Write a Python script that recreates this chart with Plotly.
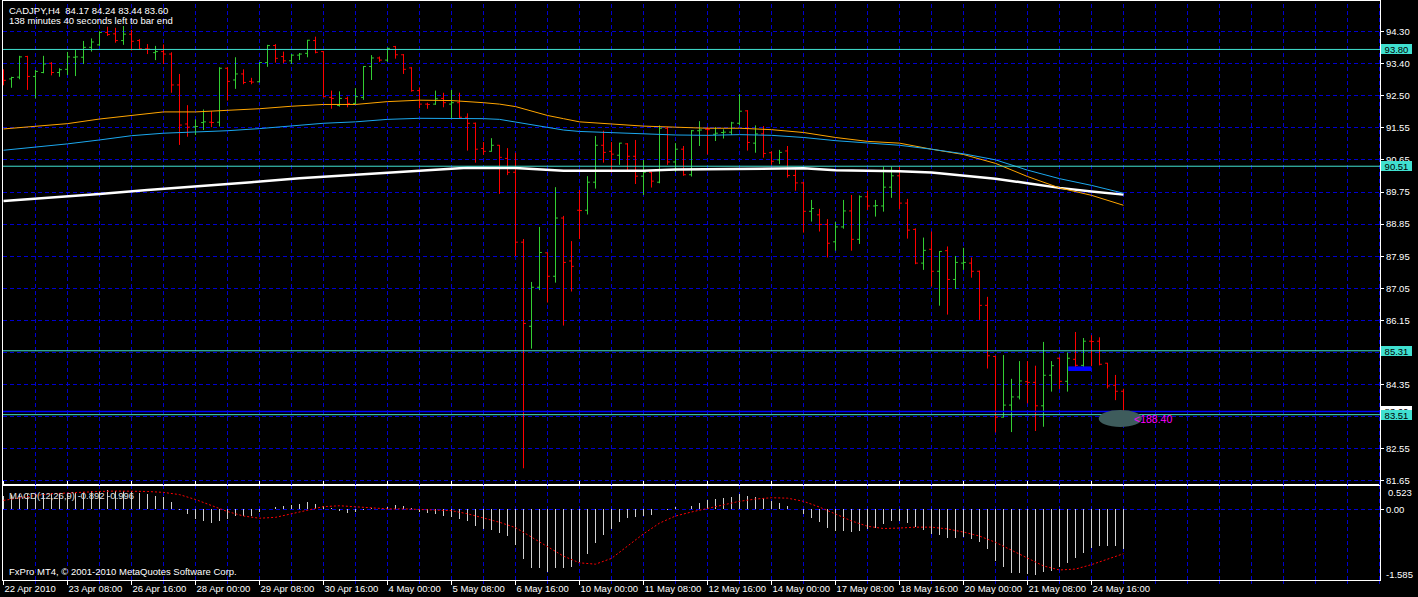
import plotly.graph_objects as go

# ---------------- data ----------------
bar_idx = list(range(141))
opens = [93.13, 92.97, 93.02, 93.60, 93.04, 93.15, 93.41, 93.15, 93.24, 93.58,
         93.58, 93.86, 93.93, 94.28, 94.24, 94.05, 94.23, 94.05, 93.82, 93.71,
         93.74, 93.67, 92.80, 91.70, 91.62, 91.74, 91.75, 91.75, 93.27, 92.94,
         93.11, 92.90, 92.89, 93.43, 93.91, 93.60, 93.48, 93.64, 93.69, 94.05,
         93.74, 92.45, 92.22, 92.42, 92.28, 92.45, 93.32, 93.56, 93.50, 93.88,
         93.65, 93.28, 92.64, 92.26, 92.26, 92.42, 92.26, 92.30, 91.89, 91.72,
         91.01, 90.93, 91.10, 90.73, 90.34, 88.37, 86.00, 87.10, 88.07, 87.41,
         89.05, 87.84, 89.27, 89.27, 90.06, 91.10, 90.93, 90.82, 91.14, 90.79,
         90.23, 90.34, 90.06, 91.58, 90.63, 90.99, 90.27, 91.51, 91.55, 91.41,
         91.46, 91.47, 91.72, 92.07, 91.16, 91.42, 90.89, 90.69, 90.94, 90.25,
         90.04, 89.24, 89.14, 88.87, 88.38, 88.80, 89.25, 88.45, 89.65, 89.39,
         89.39, 89.92, 90.24, 89.47, 88.73, 87.78, 88.17, 87.55, 88.13, 87.32,
         87.78, 87.78, 87.55, 86.59, 85.15, 83.44, 83.78, 84.01, 84.44, 84.42,
         83.76, 84.62, 85.10, 84.45, 85.07, 84.90, 85.58, 85.58, 84.96, 84.34,
         84.17]
highs = [93.24, 93.03, 93.62, 93.62, 93.22, 93.62, 93.44, 93.27, 93.73, 93.80,
         94.04, 94.11, 94.31, 94.44, 94.41, 94.46, 94.35, 94.09, 93.95, 93.90,
         93.94, 93.72, 93.11, 92.23, 91.83, 92.11, 92.06, 93.30, 93.30, 93.58,
         93.24, 93.00, 93.44, 93.93, 93.95, 93.74, 93.67, 93.70, 94.07, 94.16,
         93.75, 92.64, 92.62, 92.47, 92.71, 93.33, 93.64, 93.60, 93.86, 93.90,
         93.67, 93.30, 92.73, 92.30, 92.64, 92.58, 92.66, 92.58, 92.00, 91.74,
         91.19, 91.30, 91.11, 91.02, 90.89, 88.46, 87.25, 88.80, 88.08, 89.92,
         89.11, 88.40, 89.84, 90.23, 91.36, 91.51, 91.19, 91.17, 91.16, 91.25,
         90.69, 90.35, 91.66, 91.62, 91.16, 91.08, 91.53, 91.78, 91.62, 91.61,
         91.55, 91.76, 92.54, 92.09, 91.66, 91.64, 90.93, 90.97, 91.08, 90.42,
         90.07, 89.56, 89.31, 89.02, 88.94, 89.56, 89.70, 89.69, 89.82, 89.56,
         90.50, 90.50, 90.50, 89.59, 88.76, 88.50, 88.67, 88.12, 88.25, 87.98,
         88.21, 87.94, 87.57, 86.83, 85.17, 85.19, 84.52, 85.02, 85.02, 84.89,
         85.56, 85.02, 85.12, 85.26, 85.84, 85.67, 85.75, 85.69, 84.97, 84.63,
         84.24]
lows = [92.79, 92.72, 92.96, 92.66, 92.42, 93.13, 93.07, 93.03, 93.08, 93.05,
        93.39, 93.74, 93.90, 94.18, 93.99, 93.93, 93.77, 93.79, 93.67, 93.50,
        93.39, 92.58, 91.11, 91.34, 91.39, 91.53, 91.61, 91.63, 92.36, 92.69,
        92.82, 92.82, 92.87, 93.31, 93.43, 93.41, 93.39, 93.50, 93.58, 93.69,
        92.45, 92.13, 92.19, 92.17, 92.26, 92.38, 92.94, 93.45, 93.45, 93.54,
        93.11, 92.61, 92.14, 92.13, 92.24, 92.17, 91.86, 91.86, 90.95, 90.61,
        90.83, 90.92, 89.73, 90.26, 87.98, 82.00, 85.37, 87.02, 86.67, 87.23,
        86.02, 86.98, 88.46, 89.15, 89.88, 90.61, 90.33, 90.55, 90.40, 90.01,
        89.70, 89.91, 90.03, 90.55, 90.35, 90.24, 90.22, 91.08, 90.84, 91.22,
        91.29, 91.39, 91.67, 90.95, 90.89, 90.75, 90.55, 90.57, 90.19, 89.82,
        88.64, 88.95, 88.67, 87.94, 88.13, 88.75, 88.13, 88.32, 89.28, 89.09,
        89.23, 89.62, 89.30, 88.47, 87.75, 87.59, 87.12, 86.58, 86.33, 87.05,
        87.59, 87.37, 86.18, 84.81, 83.01, 83.43, 83.02, 83.94, 83.83, 83.05,
        83.17, 84.16, 84.23, 84.16, 84.84, 84.80, 84.88, 84.90, 84.25, 83.92,
        83.44]
closes = [92.93, 93.01, 93.59, 93.04, 93.18, 93.39, 93.15, 93.23, 93.59, 93.59,
          93.86, 94.01, 94.28, 94.22, 94.05, 94.23, 94.03, 93.82, 93.81, 93.74,
          93.67, 92.80, 91.67, 91.61, 91.63, 91.76, 91.74, 93.27, 92.90, 93.11,
          92.87, 92.88, 93.43, 93.91, 93.55, 93.48, 93.64, 93.67, 94.06, 93.72,
          92.47, 92.42, 92.42, 92.28, 92.47, 93.32, 93.56, 93.50, 93.83, 93.65,
          93.24, 92.64, 92.26, 92.25, 92.41, 92.30, 92.30, 91.89, 91.72, 90.99,
          90.93, 91.10, 90.76, 90.34, 88.37, 86.08, 87.10, 88.08, 87.41, 89.05,
          87.80, 87.69, 89.26, 90.06, 91.10, 90.90, 90.85, 91.16, 90.79, 90.23,
          90.34, 90.09, 91.58, 90.63, 90.99, 90.27, 91.51, 91.53, 91.54, 91.44,
          91.47, 91.73, 92.06, 91.18, 91.42, 90.87, 90.65, 90.90, 90.25, 90.04,
          89.24, 89.32, 88.87, 88.34, 88.80, 89.25, 88.45, 89.65, 89.39, 89.40,
          89.92, 90.24, 89.47, 88.71, 87.78, 88.14, 87.55, 88.11, 87.32, 87.80,
          87.80, 87.55, 86.59, 85.17, 83.44, 83.78, 84.01, 84.46, 84.42, 83.76,
          84.62, 84.89, 84.45, 85.10, 84.90, 85.58, 85.57, 84.93, 84.32, 84.17,
          83.60]

# moving averages (bar index, value)
ma_orange_x = [0, 4, 8, 12, 16, 20, 24, 28, 32, 36, 40, 44, 48, 52, 56, 60, 62, 64, 66, 68,
               70, 72, 76, 80, 84, 88, 92, 96, 100, 104, 108, 112, 116, 120, 124, 128, 132, 136, 140]
ma_orange = [91.56, 91.64, 91.71, 91.84, 91.95, 92.04, 92.04, 92.08, 92.13, 92.20, 92.25, 92.25,
             92.33, 92.37, 92.36, 92.30, 92.26, 92.19, 92.07, 91.94, 91.85, 91.76, 91.70, 91.64,
             91.61, 91.58, 91.58, 91.54, 91.46, 91.32, 91.21, 91.16, 90.99, 90.84, 90.59, 90.22,
             89.90, 89.69, 89.41]
ma_blue_x = [0, 4, 8, 12, 16, 20, 24, 28, 32, 36, 40, 44, 48, 52, 56, 60, 62, 64, 66, 68,
             70, 72, 76, 80, 84, 88, 92, 96, 100, 104, 108, 112, 116, 120, 124, 128, 132, 136, 140]
ma_blue = [90.96, 91.04, 91.14, 91.25, 91.37, 91.44, 91.47, 91.51, 91.57, 91.64, 91.72, 91.76,
           91.83, 91.86, 91.86, 91.85, 91.83, 91.76, 91.69, 91.61, 91.53, 91.49, 91.45, 91.42,
           91.39, 91.38, 91.40, 91.38, 91.32, 91.23, 91.16, 91.10, 90.99, 90.86, 90.69, 90.40,
           90.16, 89.97, 89.75]
ma_white_x = [0, 6, 12, 18, 25, 31, 37, 44, 50, 54, 58, 64, 66, 70, 76, 80, 84, 88, 92, 96,
              100, 104, 108, 112, 116, 120, 124, 128, 132, 136, 140]
ma_white = [89.53, 89.62, 89.73, 89.84, 89.95, 90.06, 90.17, 90.27, 90.34, 90.41, 90.47, 90.46,
            90.43, 90.38, 90.38, 90.38, 90.42, 90.43, 90.44, 90.46, 90.45, 90.40, 90.39, 90.37,
            90.33, 90.25, 90.16, 90.03, 89.90, 89.80, 89.71]

# MACD(12,26,9) main values (histogram), one per bar
macd_main = [0.30, 0.32, 0.35, 0.35, 0.35, 0.36, 0.36, 0.36, 0.37, 0.37,
             0.39, 0.40, 0.42, 0.43, 0.42, 0.42, 0.40, 0.37, 0.34, 0.31,
             0.28, 0.17, -0.02, -0.11, -0.21, -0.26, -0.31, -0.26, -0.21, -0.16,
             -0.14, -0.14, -0.06, 0.01, 0.05, 0.08, 0.10, 0.13, 0.17, 0.12,
             0.08, 0.02, -0.03, -0.09, -0.05, -0.01, 0.02, 0.01,
             0.060, 0.098, 0.076, 0.023, -0.053, -0.076, -0.098, -0.144, -0.166, -0.212,
             -0.257, -0.370, -0.431, -0.469, -0.522, -0.597, -0.809, -1.118, -1.308, -1.323,
             -1.399, -1.323, -1.323, -1.293, -1.187, -0.998, -0.756, -0.582, -0.431, -0.295,
             -0.197, -0.181, -0.159, -0.128, 0.010, -0.010, 0.045, 0.008, 0.083, 0.144,
             0.204, 0.234, 0.257, 0.280, 0.348, 0.310, 0.287, 0.249, 0.197, 0.144,
             0.076, 0.005, -0.106, -0.189, -0.295, -0.416, -0.491, -0.484, -0.514, -0.476,
             -0.431, -0.416, -0.340, -0.265, -0.265, -0.302, -0.393, -0.469, -0.559, -0.582,
             -0.642, -0.642, -0.620, -0.658, -0.733, -0.899, -1.149, -1.300, -1.421, -1.421,
             -1.444, -1.466, -1.413, -1.383, -1.300, -1.202, -1.096, -0.983, -0.869, -0.831,
             -0.824, -0.831, -0.892]
signal_x = [0, 2, 4, 6, 8, 10, 12, 14, 16, 18, 20, 22, 24, 26, 28, 30, 32, 34, 36, 38,
            40, 42, 44, 46, 48, 50, 52, 54, 56, 58, 60, 62, 64, 66, 68, 70, 72, 74, 76, 78,
            80, 82, 84, 86, 88, 90, 92, 94, 96, 98, 100, 102, 104, 106, 108, 110, 112, 114,
            116, 118, 120, 122, 124, 126, 128, 130, 132, 134, 136, 138, 140]
signal = [0.20, 0.26, 0.31, 0.35, 0.37, 0.39, 0.40, 0.41, 0.41, 0.40, 0.38, 0.33, 0.22, 0.08,
          -0.05, -0.15, -0.20, -0.18, -0.10, -0.02, 0.06, 0.08, 0.06, 0.03, 0.01, 0.01, 0.0,
          -0.01, -0.03, -0.10, -0.20, -0.29, -0.41, -0.62, -0.84, -1.05, -1.20, -1.23, -1.10,
          -0.82, -0.55, -0.31, -0.15, -0.06, 0.02, 0.10, 0.18, 0.23, 0.26, 0.25, 0.18, 0.05,
          -0.11, -0.26, -0.38, -0.43, -0.42, -0.40, -0.40, -0.44, -0.51, -0.60, -0.74, -0.92,
          -1.10, -1.27, -1.36, -1.34, -1.24, -1.11, -0.996]

x_tick_pos = list(range(0, 137, 8))
x_tick_text = ["22 Apr 2010", "23 Apr 08:00", "26 Apr 16:00", "28 Apr 00:00", "29 Apr 08:00",
               "30 Apr 16:00", "4 May 00:00", "5 May 08:00", "6 May 16:00", "10 May 00:00",
               "11 May 08:00", "12 May 16:00", "14 May 00:00", "17 May 08:00", "18 May 16:00",
               "20 May 00:00", "21 May 08:00", "24 May 16:00"]
x_minor_pos = [v for v in range(4, 173, 4) if v not in x_tick_pos]
x_grid_pos = list(range(4, 173, 4))

price_top, price_bottom = 94.30, 81.65
price_tick_text = ["94.30", "93.40", "92.50", "91.55", "90.65", "89.75", "88.85", "87.95",
                   "87.05", "86.15", "", "84.35", "", "82.55", "81.65"]
n_pt = len(price_tick_text)
price_tick_pos = [price_top - k * (price_top - price_bottom) / (n_pt - 1) for k in range(n_pt)]

hlines = [93.80, 90.51, 85.31, 83.51]
bid_price = 83.60
macd_max, macd_min = 0.523, -1.585

rect_obj = dict(x0=133.1, x1=136.0, y0=84.74, y1=84.87)
ellipse_obj = dict(x0=136.9, x1=142.3, y0=83.16, y1=83.64)
arrow_text = "<188.40"
arrow_pos = (141.0, 83.40)

# ---------------- style / layout ----------------
W, H = 1418, 597
PL, PR, PT, PB = 3, 1380, 1, 580
MAIN_BOTTOM_PX, MACD_TOP_PX = 484, 486
GRID = "#0000D0"
GRID_DASH = "4px,3px"
UP, DOWN = "#32CD32", "#FF0000"
CYAN = "#40E0D0"
FONT = "Liberation Sans, Arial, sans-serif"
FS = 9.5

def py(p):  # pixel row -> paper y
    return (PB - p) / (PB - PT)

def pxx(p):  # pixel column -> paper x
    return (p - PL) / (PR - PL)

main_dom = [py(MAIN_BOTTOM_PX), 1.0]
macd_dom = [0.0, py(MACD_TOP_PX)]
ppu = (480.7 - 31.7) / (price_top - price_bottom)  # px per price unit
main_range = [price_top - (MAIN_BOTTOM_PX - 31.7) / ppu, price_top + (31.7 - PT) / ppu]
x_range = [(PL - 3.5) / 8, (PL - 3.5) / 8 + (PR - PL) / 8]

fig = go.Figure()
# vertical dotted grid in both panes (drawn first, under everything)
for (y0, y1, ax) in ((main_dom[0], main_dom[1], "y"), (macd_dom[0], macd_dom[1], "y2")):
    pass
fig.add_trace(go.Ohlc(x=bar_idx, open=opens, high=highs, low=lows, close=closes,
                      increasing=dict(line=dict(color=UP, width=1)),
                      decreasing=dict(line=dict(color=DOWN, width=1)),
                      tickwidth=0.3, xaxis="x", yaxis="y", showlegend=False, hoverinfo="skip"))
fig.add_trace(go.Scatter(x=ma_white_x, y=ma_white, mode="lines", line=dict(color="white", width=2.5),
                         yaxis="y", showlegend=False, hoverinfo="skip"))
fig.add_trace(go.Scatter(x=ma_orange_x, y=ma_orange, mode="lines", line=dict(color="#FFA500", width=1),
                         yaxis="y", showlegend=False, hoverinfo="skip"))
fig.add_trace(go.Scatter(x=ma_blue_x, y=ma_blue, mode="lines", line=dict(color="#1CA8EE", width=1),
                         yaxis="y", showlegend=False, hoverinfo="skip"))
fig.add_trace(go.Bar(x=bar_idx, y=macd_main, width=0.125, marker=dict(color="#D0D0D0", line=dict(width=0)),
                     yaxis="y2", showlegend=False, hoverinfo="skip"))
fig.add_trace(go.Scatter(x=signal_x, y=signal, mode="lines", line=dict(color="#FF0000", width=1, dash="2px,2px"),
                         yaxis="y2", showlegend=False, hoverinfo="skip"))

shapes = []
for g in x_grid_pos:
    for (y0, y1) in (main_dom, macd_dom):
        shapes.append(dict(type="line", xref="x", x0=g, x1=g, yref="paper", y0=y0, y1=y1,
                           line=dict(color=GRID, width=1, dash=GRID_DASH), layer="below"))
for h in hlines:
    shapes.append(dict(type="line", xref="paper", x0=0, x1=1, yref="y", y0=h, y1=h,
                       line=dict(color=CYAN, width=1), layer="above"))
shapes.append(dict(type="line", xref="paper", x0=0, x1=1, yref="y", y0=bid_price, y1=bid_price,
                   line=dict(color="#0000FF", width=1.5), layer="above"))
shapes.append(dict(type="rect", xref="x", yref="y", **rect_obj, fillcolor="#0000FF",
                   line=dict(width=0), layer="above"))
shapes.append(dict(type="circle", xref="x", yref="y", **ellipse_obj, fillcolor="#3E5C5C",
                   line=dict(width=0), layer="above"))

annotations = []
def txt(x_px, y_px, s, color="white", size=FS, anchor="left"):
    annotations.append(dict(x=pxx(x_px), y=py(y_px), xref="paper", yref="paper", text=s,
                            showarrow=False, xanchor=anchor, yanchor="middle",
                            font=dict(family=FONT, size=size, color=color)))

txt(7, 10.5, "CADJPY,H4  84.17 84.24 83.44 83.60")
txt(7, 20.5, "138 minutes 40 seconds left to bar end")
txt(7, 495, "MACD(12,26,9) -0.892 -0.996", color="#E0E0E0")
txt(7, 571, "FxPro MT4, © 2001-2010 MetaQuotes Software Corp.")
txt(1386, 492, "0.523")
txt(1384, 574, "-1.585")

def price_box(p, bg):
    annotations.append(dict(x=1, xref="paper", xanchor="left", xshift=1, y=p, yref="y", yanchor="middle",
                            text=f"{p:.2f}", showarrow=False, bgcolor=bg, width=31, height=10,
                            borderpad=0, borderwidth=0,
                            font=dict(family=FONT, size=FS, color="black")))

price_box(bid_price, "white")
for h in hlines:
    price_box(h, CYAN)

annotations.append(dict(x=arrow_pos[0], y=arrow_pos[1], xref="x", yref="y", text=arrow_text,
                        showarrow=False, xanchor="left", yanchor="middle",
                        font=dict(family=FONT, size=10.5, color="#FF00FF")))

axis_font = dict(family=FONT, size=FS, color="white")
fig.update_layout(
    width=W, height=H, paper_bgcolor="black", plot_bgcolor="rgba(0,0,0,0)",
    margin=dict(l=PL, r=W - PR, t=PT, b=H - PB, autoexpand=False), showlegend=False, hovermode=False,
    bargap=0,
    xaxis=dict(domain=[0, 1], range=x_range, anchor="y2", tickmode="array", tickvals=x_tick_pos,
               ticktext=x_tick_text, ticks="outside", ticklen=4, tickcolor="white", tickangle=0,
               ticklabelposition="outside right", tickfont=axis_font, automargin=False,
               showgrid=False,
               minor=dict(tickmode="array", tickvals=x_minor_pos, ticks="outside", ticklen=3,
                          tickcolor=GRID, showgrid=False),
               showline=True, linecolor="white", linewidth=1, mirror="all", zeroline=False,
               rangeslider=dict(visible=False), fixedrange=True),
    yaxis=dict(domain=main_dom, range=main_range, anchor="x", side="right", tickmode="array",
               tickvals=price_tick_pos, ticktext=price_tick_text, ticks="outside", ticklen=3,
               tickcolor="white", tickfont=axis_font, showgrid=True, gridcolor=GRID, automargin=False,
               griddash=GRID_DASH, showline=True, linecolor="white", mirror=True, zeroline=False,
               fixedrange=True),
    yaxis2=dict(domain=macd_dom, range=[macd_min, macd_max], anchor="x", side="right",
                tickmode="array", tickvals=[0], ticktext=["0.00"], ticks="outside", ticklen=3,
                tickcolor="white", tickfont=axis_font, showgrid=True, gridcolor=GRID, automargin=False,
                griddash=GRID_DASH, showline=True, linecolor="white", mirror=True, zeroline=False,
                fixedrange=True),
    shapes=shapes, annotations=annotations,
)

fig.write_html("out.html", config={"displayModeBar": False, "staticPlot": True},
               post_script="document.body.style.margin='0';document.body.style.padding='0';"
                           "document.body.style.overflow='hidden';document.body.style.background='black';")
